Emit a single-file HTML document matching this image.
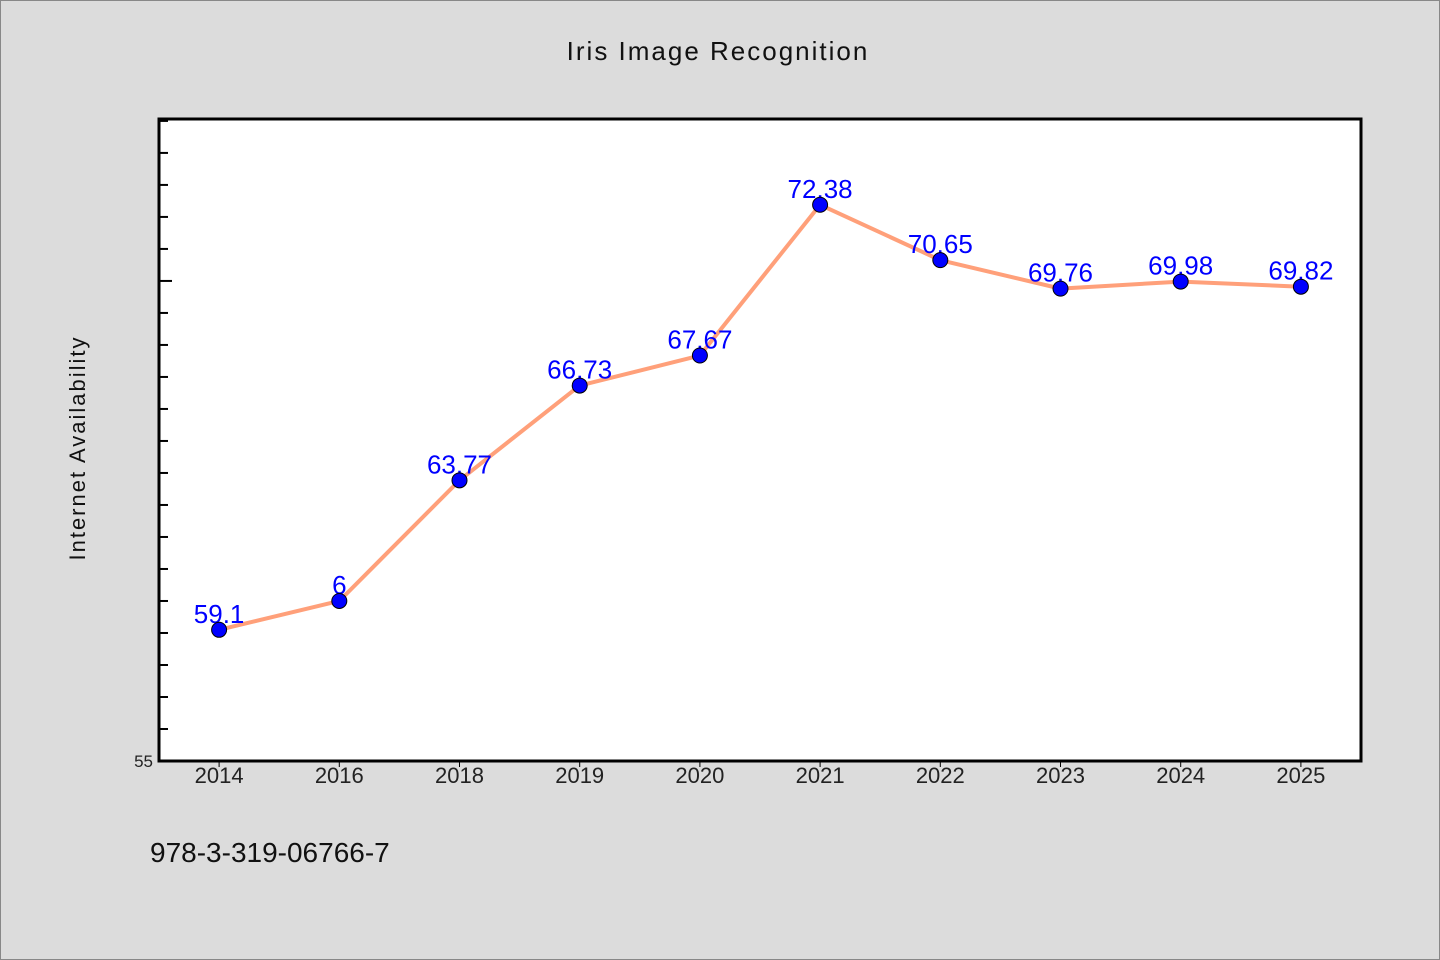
<!DOCTYPE html>
<html><head><meta charset="utf-8"><style>
html,body{margin:0;padding:0;background:#dcdcdc;}
svg{display:block;font-family:"WenQuanYi Zen Hei","Liberation Sans",sans-serif;}
</style></head><body>
<svg width="1440" height="960" viewBox="0 0 1440 960">
<rect x="0.5" y="0.5" width="1439" height="959" fill="#dcdcdc" stroke="#888"/>
<text x="718" y="60" text-anchor="middle" font-size="26" letter-spacing="2" fill="#111">Iris Image Recognition</text>
<rect x="159" y="119" width="1202" height="642" fill="#fff"/>
<g id="ticks"></g>
<g id="series"></g>
<rect x="159" y="119" width="1202" height="642" fill="none" stroke="#000" stroke-width="3"/>
<text x="85" y="448" transform="rotate(-90 85 448)" text-anchor="middle" font-size="22" letter-spacing="2" fill="#111">Internet Availability</text>
<text x="150" y="862" font-size="28" fill="#111">978-3-319-06766-7</text>
</svg>
<script>
const categories=["2014","2016","2018","2019","2020","2021","2022","2023","2024","2025"];
const values=[59.1,60,63.77,66.73,67.67,72.38,70.65,69.76,69.98,69.82];
const labels=["59.1","6","63.77","66.73","67.67","72.38","70.65","69.76","69.98","69.82"];
const yMin=55, yMax=75.06;
const L=159,R=1361,T=119,B=761;
const NS="http://www.w3.org/2000/svg";
function x(i){return L+(R-L)/categories.length*(i+0.5);}
function y(v){return B-(v-yMin)/(yMax-yMin)*(B-T);}
function mk(t,a,p){const e=document.createElementNS(NS,t);for(const k in a)e.setAttribute(k,a[k]);p.appendChild(e);return e;}
const tg=document.getElementById('ticks');
for(let v=56;v<=yMax;v++){
  const ln=mk('line',{x1:L,x2:L+(v%5===0&&v===70?13:9),y1:y(v),y2:y(v),stroke:'#000','stroke-width':2},tg);
  
  
}
const t55=mk('text',{x:153,y:767,'text-anchor':'end','font-size':17,fill:'#222'},tg);
t55.textContent=String(yMin);


categories.forEach((c,i)=>{
  const tk=mk('line',{x1:x(i),x2:x(i),y1:B,y2:B+6,stroke:'#000','stroke-width':1},tg);
  
  
  const t=mk('text',{x:x(i),y:783,'text-anchor':'middle','font-size':22,fill:'#222'},tg);
  t.textContent=c;
  
  
});
const sg=document.getElementById('series');
const line=mk('polyline',{points:values.map((v,i)=>x(i)+','+y(v)).join(' '),fill:'none',stroke:'#ffa07a','stroke-width':4,'stroke-linejoin':'round'},sg);


values.forEach((v,i)=>{
  const lb=mk('text',{x:x(i),y:y(v)-7,'text-anchor':'middle','font-size':26,fill:'#0000ff'},sg);
  lb.textContent=labels[i];
  
  
});
values.forEach((v,i)=>{
  const c=mk('circle',{cx:x(i),cy:y(v),r:7.5,fill:'#0000ff',stroke:'#000','stroke-width':1},sg);
  
  
});
</script>
</body></html>
